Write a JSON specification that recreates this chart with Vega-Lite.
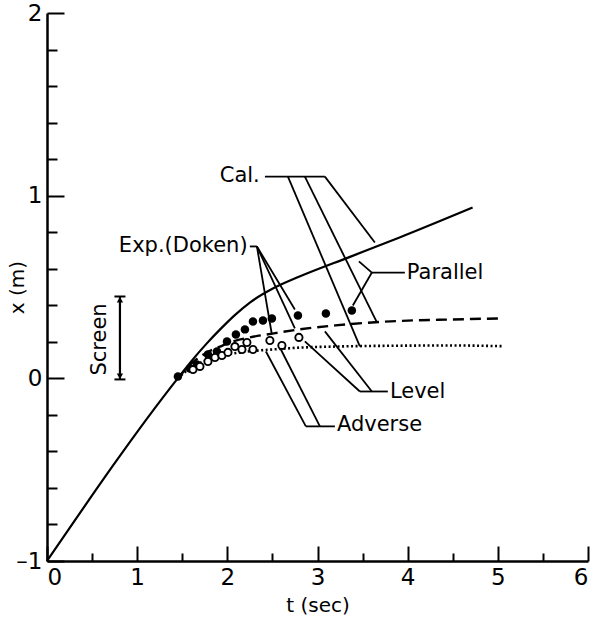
{
  "$schema": "https://vega.github.io/schema/vega-lite/v6.json",
  "width": 541,
  "height": 548,
  "autosize": {"type": "none"},
  "padding": {"left": 47, "top": 13, "right": 8, "bottom": 66},
  "background": "white",
  "config": {
    "view": {"stroke": null},
    "font": "DejaVu Sans",
    "axis": {
      "grid": false,
      "domainColor": "black",
      "domainWidth": 2.5,
      "tickColor": "black",
      "tickWidth": 2,
      "labelFont": "DejaVu Sans",
      "labelFontSize": 23,
      "labelColor": "black",
      "titleFont": "DejaVu Sans",
      "titleFontSize": 20,
      "titleFontWeight": "normal",
      "titleColor": "black"
    }
  },
  "datasets": {
    "calc": [
      {"case": "Parallel", "t": 0, "x": -1},
      {"case": "Parallel", "t": 1.45, "x": 0},
      {"case": "Parallel", "t": 1.62, "x": 0.105},
      {"case": "Parallel", "t": 1.77, "x": 0.19},
      {"case": "Parallel", "t": 1.92, "x": 0.268},
      {"case": "Parallel", "t": 2.08, "x": 0.345},
      {"case": "Parallel", "t": 2.25, "x": 0.415},
      {"case": "Parallel", "t": 2.5, "x": 0.49},
      {"case": "Parallel", "t": 2.8, "x": 0.557},
      {"case": "Parallel", "t": 3.36, "x": 0.665},
      {"case": "Parallel", "t": 3.91, "x": 0.771},
      {"case": "Parallel", "t": 4.72, "x": 0.935},
      {"case": "Level", "t": 1.45, "x": 0},
      {"case": "Level", "t": 1.6, "x": 0.08},
      {"case": "Level", "t": 1.75, "x": 0.135},
      {"case": "Level", "t": 1.9, "x": 0.17},
      {"case": "Level", "t": 2.05, "x": 0.2},
      {"case": "Level", "t": 2.25, "x": 0.224},
      {"case": "Level", "t": 2.5, "x": 0.245},
      {"case": "Level", "t": 2.8, "x": 0.268},
      {"case": "Level", "t": 3.2, "x": 0.29},
      {"case": "Level", "t": 3.6, "x": 0.306},
      {"case": "Level", "t": 4.0, "x": 0.316},
      {"case": "Level", "t": 4.47, "x": 0.322},
      {"case": "Level", "t": 5.02, "x": 0.328},
      {"case": "Adverse", "t": 1.45, "x": 0},
      {"case": "Adverse", "t": 1.6, "x": 0.06},
      {"case": "Adverse", "t": 1.75, "x": 0.095},
      {"case": "Adverse", "t": 1.9, "x": 0.12},
      {"case": "Adverse", "t": 2.05, "x": 0.135},
      {"case": "Adverse", "t": 2.25, "x": 0.148},
      {"case": "Adverse", "t": 2.5, "x": 0.158},
      {"case": "Adverse", "t": 2.8, "x": 0.168},
      {"case": "Adverse", "t": 3.3, "x": 0.175},
      {"case": "Adverse", "t": 4.0, "x": 0.179},
      {"case": "Adverse", "t": 4.47, "x": 0.18},
      {"case": "Adverse", "t": 5.06, "x": 0.176}
    ],
    "exp": [
      {"case": "Parallel", "t": 1.452, "x": 0.01},
      {"case": "Parallel", "t": 1.585, "x": 0.054},
      {"case": "Parallel", "t": 1.663, "x": 0.076},
      {"case": "Parallel", "t": 1.785, "x": 0.131},
      {"case": "Parallel", "t": 1.885, "x": 0.147},
      {"case": "Parallel", "t": 1.996, "x": 0.202},
      {"case": "Parallel", "t": 2.095, "x": 0.24},
      {"case": "Parallel", "t": 2.195, "x": 0.268},
      {"case": "Parallel", "t": 2.284, "x": 0.311},
      {"case": "Parallel", "t": 2.395, "x": 0.317},
      {"case": "Parallel", "t": 2.494, "x": 0.328},
      {"case": "Parallel", "t": 2.783, "x": 0.344},
      {"case": "Parallel", "t": 3.093, "x": 0.355},
      {"case": "Parallel", "t": 3.381, "x": 0.371},
      {"case": "Adverse", "t": 1.619, "x": 0.048},
      {"case": "Adverse", "t": 1.696, "x": 0.065},
      {"case": "Adverse", "t": 1.785, "x": 0.092},
      {"case": "Adverse", "t": 1.863, "x": 0.114},
      {"case": "Adverse", "t": 1.94, "x": 0.125},
      {"case": "Adverse", "t": 2.007, "x": 0.142},
      {"case": "Level", "t": 2.084, "x": 0.174},
      {"case": "Adverse", "t": 2.162, "x": 0.158},
      {"case": "Level", "t": 2.217, "x": 0.196},
      {"case": "Adverse", "t": 2.284, "x": 0.158},
      {"case": "Level", "t": 2.472, "x": 0.207},
      {"case": "Adverse", "t": 2.605, "x": 0.18},
      {"case": "Level", "t": 2.794, "x": 0.224}
    ],
    "leaders": [
      {"group": "Cal.", "t": 2.417, "x": 1.104, "t2": 3.082, "x2": 1.104},
      {"group": "Cal.", "t": 2.672, "x": 1.104, "t2": 3.47, "x2": 0.175},
      {"group": "Cal.", "t": 2.86, "x": 1.104, "t2": 3.659, "x2": 0.306},
      {"group": "Cal.", "t": 3.082, "x": 1.104, "t2": 3.636, "x2": 0.744},
      {"group": "Exp.", "t": 2.25, "x": 0.722, "t2": 2.328, "x2": 0.722},
      {"group": "Exp.", "t": 2.328, "x": 0.722, "t2": 2.494, "x2": 0.24},
      {"group": "Exp.", "t": 2.328, "x": 0.722, "t2": 2.749, "x2": 0.273},
      {"group": "Exp.", "t": 2.328, "x": 0.722, "t2": 2.749, "x2": 0.377},
      {"group": "Parallel", "t": 3.603, "x": 0.579, "t2": 3.969, "x2": 0.579},
      {"group": "Parallel", "t": 3.603, "x": 0.579, "t2": 3.459, "x2": 0.64},
      {"group": "Parallel", "t": 3.603, "x": 0.579, "t2": 3.392, "x2": 0.399},
      {"group": "Level", "t": 3.47, "x": -0.072, "t2": 3.78, "x2": -0.072},
      {"group": "Level", "t": 3.47, "x": -0.072, "t2": 2.86, "x2": 0.202},
      {"group": "Level", "t": 3.603, "x": -0.072, "t2": 3.082, "x2": 0.257},
      {"group": "Adverse", "t": 2.871, "x": -0.263, "t2": 3.193, "x2": -0.263},
      {"group": "Adverse", "t": 2.871, "x": -0.263, "t2": 2.428, "x2": 0.147},
      {"group": "Adverse", "t": 3.027, "x": -0.263, "t2": 2.594, "x2": 0.158}
    ],
    "labelsRight": [
      {"label": "Cal.", "t": 2.36, "x": 1.11},
      {"label": "Exp.(Doken)", "t": 2.225, "x": 0.727}
    ],
    "labelsLeft": [
      {"label": "Parallel", "t": 3.991, "x": 0.579},
      {"label": "Level", "t": 3.803, "x": -0.077},
      {"label": "Adverse", "t": 3.215, "x": -0.258}
    ],
    "screen": [
      {"t": 0.809, "x": -0.006, "t2": 0.809, "x2": 0.448}
    ],
    "screenEnds": [
      {"end": "top", "t": 0.809, "x": 0.448},
      {"end": "bottom", "t": 0.809, "x": -0.006}
    ],
    "screenHeads": [
      {"shape": "triangle-up", "t": 0.809, "x": 0.43},
      {"shape": "triangle-down", "t": 0.809, "x": 0.012}
    ]
  },
  "encoding": {
    "x": {
      "field": "t",
      "type": "quantitative",
      "scale": {"domain": [0, 6], "nice": false, "zero": false},
      "axis": {
        "title": "t (sec)",
        "values": [0, 0.5, 1, 1.5, 2, 2.5, 3, 3.5, 4, 4.5, 5, 5.5, 6],
        "labelExpr": "datum.value % 1 == 0 ? format(datum.value, 'd') : ''",
        "tickSize": {"condition": {"test": "datum.value % 1 == 0", "value": -15}, "value": -8},
        "labelPadding": 20,
        "titlePadding": 6
      }
    },
    "y": {
      "field": "x",
      "type": "quantitative",
      "scale": {"domain": [-1, 2], "nice": false, "zero": false},
      "axis": {
        "title": "x (m)",
        "values": [-1, -0.8, -0.6, -0.4, -0.2, 0, 0.2, 0.4, 0.6, 0.8, 1, 1.2, 1.4, 1.6, 1.8, 2],
        "labelExpr": "datum.value % 1 == 0 ? replace(format(datum.value, 'd'), '−', '–') : ''",
        "tickSize": {"condition": {"test": "datum.value % 1 == 0", "value": -17}, "value": -10},
        "labelPadding": 22,
        "titlePadding": -12
      }
    }
  },
  "layer": [
    {
      "data": {"name": "calc"},
      "transform": [{"filter": "datum.case == 'Parallel'"}],
      "mark": {"type": "line", "color": "black", "strokeWidth": 2.2, "interpolate": "monotone"}
    },
    {
      "data": {"name": "calc"},
      "transform": [{"filter": "datum.case == 'Level'"}],
      "mark": {"type": "line", "color": "black", "strokeWidth": 2.4, "strokeDash": [11, 6], "interpolate": "monotone"}
    },
    {
      "data": {"name": "calc"},
      "transform": [{"filter": "datum.case == 'Adverse'"}],
      "mark": {"type": "line", "color": "black", "strokeWidth": 2.6, "strokeDash": [2, 2.5], "interpolate": "monotone"}
    },
    {
      "data": {"name": "leaders"},
      "mark": {"type": "rule", "color": "black", "strokeWidth": 1.8},
      "encoding": {"x2": {"field": "t2"}, "y2": {"field": "x2"}}
    },
    {
      "data": {"name": "exp"},
      "transform": [{"filter": "datum.case == 'Parallel'"}],
      "mark": {"type": "point", "filled": true, "color": "black", "size": 72, "opacity": 1}
    },
    {
      "data": {"name": "exp"},
      "transform": [{"filter": "datum.case != 'Parallel'"}],
      "mark": {"type": "point", "filled": false, "color": "black", "size": 52, "strokeWidth": 1.9, "fill": "white", "fillOpacity": 1, "opacity": 1}
    },
    {
      "data": {"name": "labelsRight"},
      "mark": {"type": "text", "align": "right", "baseline": "middle", "fontSize": 21, "font": "DejaVu Sans", "color": "black"},
      "encoding": {"text": {"field": "label"}}
    },
    {
      "data": {"name": "labelsLeft"},
      "mark": {"type": "text", "align": "left", "baseline": "middle", "fontSize": 21, "font": "DejaVu Sans", "color": "black"},
      "encoding": {"text": {"field": "label"}}
    },
    {
      "data": {"name": "screen"},
      "mark": {"type": "rule", "color": "black", "strokeWidth": 2.2},
      "encoding": {"x2": {"field": "t2"}, "y2": {"field": "x2"}}
    },
    {
      "data": {"name": "screenEnds"},
      "mark": {"type": "tick", "orient": "horizontal", "color": "black", "size": 11, "thickness": 2, "opacity": 1}
    },
    {
      "data": {"name": "screenHeads"},
      "mark": {"type": "point", "filled": true, "color": "black", "size": 40, "opacity": 1},
      "encoding": {"shape": {"field": "shape", "type": "nominal", "scale": null}}
    },
    {
      "data": {"values": [{"label": "Screen", "t": 0.588, "x": 0.213}]},
      "mark": {"type": "text", "angle": 270, "align": "center", "baseline": "middle", "fontSize": 21, "font": "DejaVu Sans", "color": "black"},
      "encoding": {"text": {"field": "label"}}
    }
  ]
}
